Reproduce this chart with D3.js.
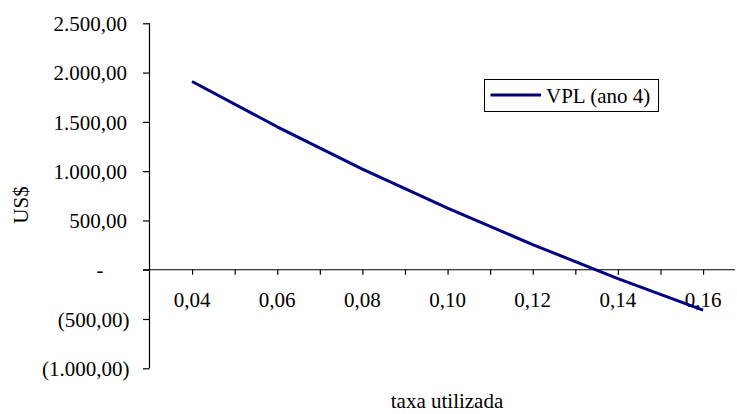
<!DOCTYPE html>
<html>
<head>
<meta charset="utf-8">
<script src="https://cdn.jsdelivr.net/npm/d3@7/dist/d3.min.js"></script>
<style>
  html, body { margin: 0; padding: 0; background: #fff; }
  svg { display: block; }
</style>
</head>
<body>
<svg id="chart" width="737" height="414"></svg>
<script>
// Discount rates and the project's net present value at each rate
const rates = [0.04, 0.06, 0.08, 0.10, 0.12, 0.14, 0.16];
const vpl = [1910, 1450, 1020, 625, 255, -90, -410];
const seriesName = "VPL (ano 4)";

// Axis ticks
const yTicks = [2500, 2000, 1500, 1000, 500, 0, -500, -1000];
const xMinorTicks = [0.04, 0.05, 0.06, 0.07, 0.08, 0.09, 0.10, 0.11, 0.12, 0.13, 0.14, 0.15, 0.16];
const xLabelTicks = [0.04, 0.06, 0.08, 0.10, 0.12, 0.14, 0.16];

const svg = d3.select("#chart");
const fontSize = 21;
const serif = '"Liberation Serif"';

const x = d3.scaleLinear().domain([0.03, 0.1675]).range([149.5, 735]);
const y = d3.scaleLinear().domain([-1000, 2500]).range([368.3, 23.3]);

const br = d3.formatLocale({ decimal: ",", thousands: ".", grouping: [3], currency: ["US$", ""] });
const num = br.format(",.2f");
const rateFmt = br.format(".2f");

// Accounting-style value labels: zero as a dash, negatives in parentheses
function yLabel(v) {
  if (v === 0) return "-";
  if (v < 0) return "(" + num(-v) + ")";
  return num(v);
}

function styleText(sel) {
  sel.attr("font-family", null).attr("font-size", null)
    .style("font-family", serif).style("font-size", fontSize + "px").attr("fill", "#000");
}

// Value axis
const yAxis = d3.axisLeft(y).tickValues(yTicks).tickSize(6.5).tickFormat(yLabel);
const gy = svg.append("g").attr("transform", `translate(${x(0.03)},0)`).call(yAxis)
  .attr("font-family", null).attr("font-size", null);
gy.select(".domain").attr("stroke", "#000").attr("stroke-width", 1.2).attr("d", `M0,${y(2500)}V${y(-1000)}`);
gy.selectAll(".tick line").attr("stroke", "#000").attr("stroke-width", 1.2);
gy.selectAll(".tick text")
  .call(styleText)
  .attr("dy", "0.34em")
  .attr("x", d => d === 0 ? -46 : (d < 0 ? -20 : -22.5));

// Rate axis along the zero line
const xAxis = d3.axisBottom(x).tickValues(xMinorTicks).tickSize(5).tickFormat("");
const gx = svg.append("g").attr("transform", `translate(0,${y(0)})`).call(xAxis);
gx.select(".domain").attr("stroke", "#000").attr("stroke-width", 1.2).attr("d", `M${x(0.03) - 6.5},0H${x.range()[1]}`);
gx.selectAll(".tick line").attr("stroke", "#000").attr("stroke-width", 1.2);

svg.append("g").selectAll("text")
  .data(xLabelTicks)
  .join("text")
  .attr("x", d => x(d))
  .attr("y", y(0) + 37.5)
  .attr("text-anchor", "middle")
  .call(styleText)
  .text(d => rateFmt(d));

// NPV line
const line = d3.line().x((d, i) => x(rates[i])).y(d => y(d));
svg.append("path")
  .datum(vpl)
  .attr("fill", "none")
  .attr("stroke", "#000080")
  .attr("stroke-width", 3)
  .attr("stroke-linejoin", "round")
  .attr("d", line);

// Axis titles
svg.append("text")
  .attr("x", 447)
  .attr("y", 408)
  .attr("text-anchor", "middle")
  .call(styleText)
  .text("taxa utilizada");

svg.append("text")
  .attr("transform", "translate(28,205) rotate(-90)")
  .attr("text-anchor", "middle")
  .call(styleText)
  .text("US$");

// Legend
const legend = svg.append("g");
legend.append("rect")
  .attr("x", 484.5).attr("y", 79.5)
  .attr("width", 174).attr("height", 32)
  .attr("fill", "#fff").attr("stroke", "#000").attr("stroke-width", 1);
legend.append("line")
  .attr("x1", 490.5).attr("x2", 541)
  .attr("y1", 95).attr("y2", 95)
  .attr("stroke", "#000080").attr("stroke-width", 3);
legend.append("text")
  .attr("x", 546).attr("y", 102.5)
  .call(styleText)
  .text(seriesName);
</script>
</body>
</html>
